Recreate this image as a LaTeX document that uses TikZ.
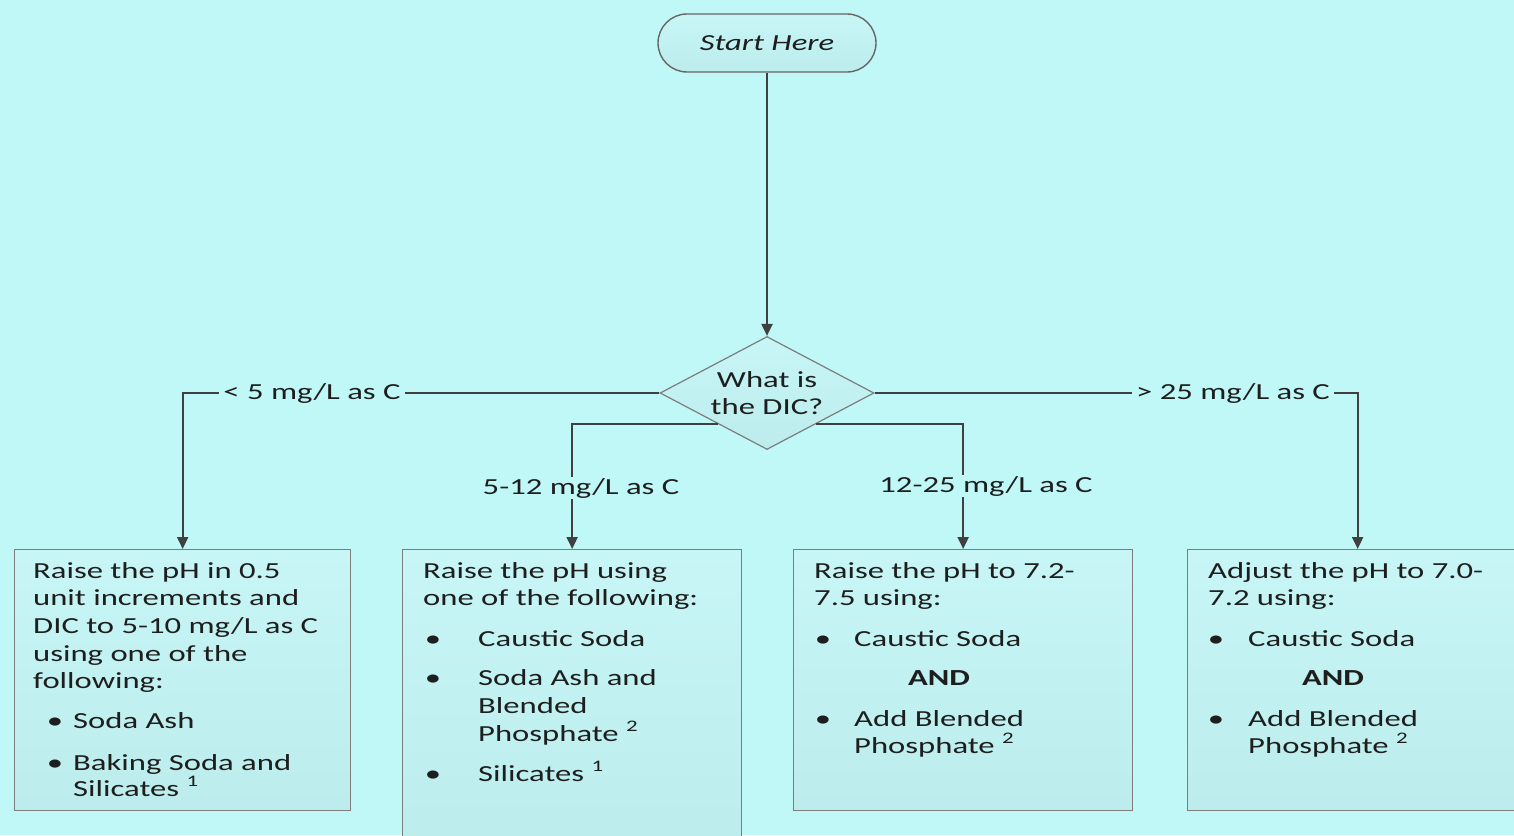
\documentclass[tikz,border=0pt]{standalone}
\usepackage{fontspec}
\setmainfont{Carlito}[FakeStretch=1.42]
\usetikzlibrary{shapes.geometric,arrows.meta,calc}
\definecolor{bg}{RGB}{192,248,248}
\definecolor{boxtop}{RGB}{200,246,246}
\definecolor{boxbot}{RGB}{188,236,236}
\definecolor{edge}{RGB}{64,64,64}
\definecolor{frame}{RGB}{125,125,125}
\definecolor{ink}{RGB}{30,30,30}
\begin{document}
\begin{tikzpicture}[x=1pt,y=-1pt,
  every node/.style={font=\fontsize{23}{27.5}\selectfont, text=ink},
  flowbox/.style={draw=frame, line width=1.3pt, top color=boxtop, bottom color=boxbot,
    anchor=north west, inner sep=0, minimum height=261pt},
  conn/.style={draw=edge, line width=2pt, -{Triangle[length=12pt,width=11pt]}},
  lab/.style={fill=bg, inner sep=1pt},
  txt/.style={anchor=base west, inner sep=0},
  bul/.style={anchor=base, inner sep=0}]
\useasboundingbox (0,0) rectangle (1514,835);
\clip (0,0) rectangle (1514,835);
\fill[bg] (0,0) rectangle (1514,835);

% start and decision
\node[draw=edge!80, line width=1.4pt, rounded corners=29pt, minimum width=218pt,
  minimum height=58pt, top color=boxtop, bottom color=boxbot, font=\fontsize{23}{27.5}\selectfont\itshape]
  (start) at (767,43) {Start Here};
\node[diamond, draw=frame, line width=1.2pt, top color=boxtop, bottom color=boxbot,
  minimum width=214pt, minimum height=113pt, inner sep=0]
  (dia) at (767,393) {};
\node[align=center, inner sep=0] (diat) at (767,393) {What is\\the DIC?};

% boxes
\node[flowbox, minimum width=336pt] (b1) at (14,549) {};
\node[flowbox, minimum width=339pt, minimum height=300pt] (b2) at (402,549) {};
\node[flowbox, minimum width=339pt] (b3) at (793,549) {};
\node[flowbox, minimum width=340pt] (b4) at (1187,549) {};

% connectors
\draw[conn] (start.south) -- (dia.north);
\draw[conn] (dia.west) -| (b1.north);
\draw[conn] (dia.east) -| (b4.north);
\coordinate (dl) at ($(dia.south)!0.456!(dia.west)$);
\coordinate (dr) at ($(dia.south)!0.456!(dia.east)$);
\draw[conn] (dl) -| (b2.north);
\draw[conn] (dr) -| (b3.north);

% branch labels
\node[lab, inner xsep=4pt] (l1) at (312,393) {< 5 mg/L as C};
\node[lab, inner xsep=4pt] (l4) at (1233,393) {> 25 mg/L as C};
\node[lab] (l2) at (581,488) {5-12 mg/L as C};
\node[lab] (l3) at (986,486) {12-25 mg/L as C};

% box 1 text
\node[txt] (t11) at (33,578) {Raise the pH in 0.5};
\node[txt] (t12) at (33,605) {unit increments and};
\node[txt] (t13) at (33,633) {DIC to 5-10 mg/L as C};
\node[txt] (t14) at (33,661) {using one of the};
\node[txt] (t15) at (33,688) {following:};
\node[bul] (u11) at (55,728) {\textbullet};
\node[txt] (t16) at (73,728) {Soda Ash};
\node[bul] (u12) at (55,770) {\textbullet};
\node[txt] (t17) at (73,770) {Baking Soda and};
\node[txt] (t18) at (73,796) {Silicates \textsuperscript{1}};

% box 2 text
\node[txt] (t21) at (423,578) {Raise the pH using};
\node[txt] (t22) at (423,605) {one of the following:};
\node[bul] (u21) at (433,646) {\textbullet};
\node[txt] (t23) at (478,646) {Caustic Soda};
\node[bul] (u22) at (433,685) {\textbullet};
\node[txt] (t24) at (478,685) {Soda Ash and};
\node[txt] (t25) at (478,713) {Blended};
\node[txt] (t26) at (478,741) {Phosphate \textsuperscript{2}};
\node[bul] (u23) at (433,781) {\textbullet};
\node[txt] (t27) at (478,781) {Silicates \textsuperscript{1}};

% box 3 text
\node[txt] (t31) at (814,578) {Raise the pH to 7.2-};
\node[txt] (t32) at (814,605) {7.5 using:};
\node[bul] (u31) at (823,646) {\textbullet};
\node[txt] (t33) at (854,646) {Caustic Soda};
\node[bul, font=\fontsize{23}{27.5}\selectfont\bfseries] (a3) at (939,685) {AND};
\node[bul] (u32) at (823,726) {\textbullet};
\node[txt] (t34) at (854,726) {Add Blended};
\node[txt] (t35) at (854,753) {Phosphate \textsuperscript{2}};

% box 4 text
\node[txt] (t41) at (1208,578) {Adjust the pH to 7.0-};
\node[txt] (t42) at (1208,605) {7.2 using:};
\node[bul] (u41) at (1216,646) {\textbullet};
\node[txt] (t43) at (1248,646) {Caustic Soda};
\node[bul, font=\fontsize{23}{27.5}\selectfont\bfseries] (a4) at (1333,685) {AND};
\node[bul] (u42) at (1216,726) {\textbullet};
\node[txt] (t44) at (1248,726) {Add Blended};
\node[txt] (t45) at (1248,753) {Phosphate \textsuperscript{2}};
\end{tikzpicture}
\end{document}
